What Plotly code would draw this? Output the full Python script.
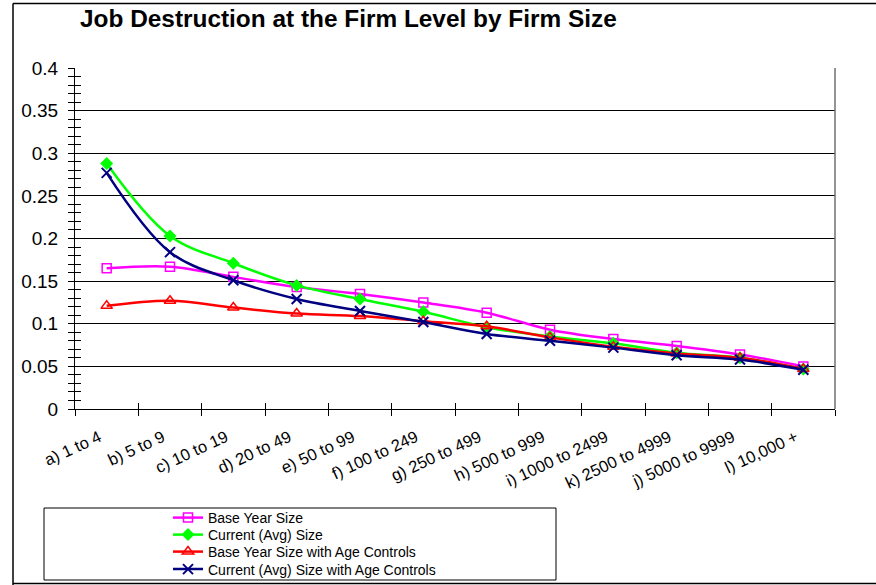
import plotly.graph_objects as go

categories = ["a) 1 to 4", "b) 5 to 9", "c) 10 to 19", "d) 20 to 49", "e) 50 to 99",
              "f) 100 to 249", "g) 250 to 499", "h) 500 to 999", "i) 1000 to 2499",
              "k) 2500 to 4999", "j) 5000 to 9999", "l) 10,000 +"]
base_year = [0.165, 0.167, 0.155, 0.143, 0.135, 0.125, 0.113, 0.093, 0.082, 0.074, 0.064, 0.050]
current_avg = [0.288, 0.203, 0.171, 0.145, 0.129, 0.114, 0.096, 0.085, 0.077, 0.066, 0.060, 0.047]
base_year_age = [0.121, 0.127, 0.119, 0.112, 0.109, 0.103, 0.097, 0.084, 0.073, 0.065, 0.060, 0.047]
current_avg_age = [0.277, 0.184, 0.151, 0.129, 0.115, 0.102, 0.088, 0.080, 0.072, 0.063, 0.058, 0.046]
y_ticks = [0, 0.05, 0.1, 0.15, 0.2, 0.25, 0.3, 0.35, 0.4]

FONT = "Liberation Sans, Arial, sans-serif"
W, H = 876, 585
L, R, T, B = 75, 835, 68, 409

series = [
    ("Base Year Size", base_year, "#FF00FF", dict(symbol="square-open", size=9, line=dict(width=1.5, color="#FF00FF"))),
    ("Current (Avg) Size", current_avg, "#00FF00", dict(symbol="diamond", size=10, line=dict(width=0))),
    ("Base Year Size with Age Controls", base_year_age, "#FF0000", dict(symbol="triangle-up-open", size=10, line=dict(width=1.5, color="#FF0000"))),
    ("Current (Avg) Size with Age Controls", current_avg_age, "#000080", dict(symbol="x-thin-open", size=10, line=dict(width=2, color="#000080"))),
]
legend_rows_px = [518, 535, 552, 569.5]

fig = go.Figure()
legend_layout = {}
for i, (name, vals, color, marker) in enumerate(series):
    lname = "legend" if i == 0 else f"legend{i + 1}"
    fig.add_trace(go.Scatter(
        x=categories, y=vals, name=name, mode="lines+markers", legend=lname,
        line=dict(color=color, width=2.5, shape="spline", smoothing=1.0),
        marker=dict(color=color, **marker),
    ))
    legend_layout[lname] = dict(
        x=168 / W, xref="container", xanchor="left",
        y=1 - legend_rows_px[i] / H, yref="container", yanchor="middle",
        bgcolor="rgba(0,0,0,0)", borderwidth=0,
        font=dict(family=FONT, size=14, color="black"), itemwidth=30)

# dummy trace for the overlay axes (inner half of crossing ticks)
fig.add_trace(go.Scatter(x=categories, y=[None] * len(categories), xaxis="x2", yaxis="y2",
                         showlegend=False, hoverinfo="skip", mode="lines"))


def px(xp):
    return (xp - L) / (R - L)


def py(yp):
    return (B - yp) / (B - T)


fig.update_layout(
    width=W, height=H,
    margin=dict(l=L, r=W - R, t=T, b=H - B, pad=0, autoexpand=False),
    paper_bgcolor="white", plot_bgcolor="white",
    font=dict(family=FONT, color="black"),
    title=dict(text="Job Destruction at the Firm Level by Firm Size",
               font=dict(family=FONT, size=24.4, color="black", weight=700),
               x=80 / W, xref="container", xanchor="left",
               y=1 - 18.5 / H, yref="container", yanchor="middle"),
    xaxis=dict(type="category", categoryorder="array", categoryarray=categories,
               range=[-0.5, len(categories) - 0.5], tickson="boundaries",
               tickmode="array", tickvals=categories,
               ticktext=[c + "\u2002" for c in categories],
               ticks="outside", ticklen=6, tickcolor="black", tickwidth=1,
               showline=True, linecolor="black", linewidth=1, showgrid=False,
               tickangle=-25, tickfont=dict(family=FONT, size=16.5, color="black"),
               ticklabelstandoff=8),
    yaxis=dict(range=[0, 0.4], tickvals=y_ticks, ticks="outside", ticklen=6,
               tickcolor="black", tickwidth=1,
               minor=dict(dtick=0.01, ticks="outside", ticklen=6, tickcolor="black", showgrid=False),
               showline=True, linecolor="black", linewidth=1,
               showgrid=True, gridcolor="black", gridwidth=1, zeroline=False,
               tickfont=dict(family=FONT, size=19, color="black"), ticklabelstandoff=6),
    xaxis2=dict(type="category", overlaying="x", categoryorder="array", categoryarray=categories,
                range=[-0.5, len(categories) - 0.5], tickson="boundaries",
                ticks="inside", ticklen=6, tickcolor="black", showticklabels=False,
                showgrid=False, showline=False),
    yaxis2=dict(overlaying="y", range=[0, 0.4], tickvals=y_ticks, ticks="inside", ticklen=6,
                tickcolor="black",
                minor=dict(dtick=0.01, ticks="inside", ticklen=6, tickcolor="black", showgrid=False),
                showticklabels=False, showgrid=False, zeroline=False, showline=False),
    showlegend=True,
    shapes=[
        # right border of plot area
        dict(type="line", xref="paper", yref="paper", x0=1, x1=1, y0=0, y1=1,
             line=dict(color="#707070", width=1.5)),
        # legend box
        dict(type="rect", xref="paper", yref="paper", x0=px(44), x1=px(556), y0=py(508), y1=py(580),
             line=dict(color="black", width=1)),
        # chart frame
        dict(type="line", xref="paper", yref="paper", x0=px(13), x1=px(880), y0=py(3.5), y1=py(3.5),
             line=dict(color="black", width=1.5)),
        dict(type="line", xref="paper", yref="paper", x0=px(13), x1=px(13), y0=py(3.5), y1=py(590),
             line=dict(color="black", width=1.5)),
        dict(type="line", xref="paper", yref="paper", x0=px(13), x1=px(880), y0=py(583.5), y1=py(583.5),
             line=dict(color="black", width=1.5)),
    ],
    **legend_layout,
)

fig.write_html("out.html", config={"displayModeBar": False},
               post_script="document.body.style.margin='0';document.body.style.overflow='hidden';")
